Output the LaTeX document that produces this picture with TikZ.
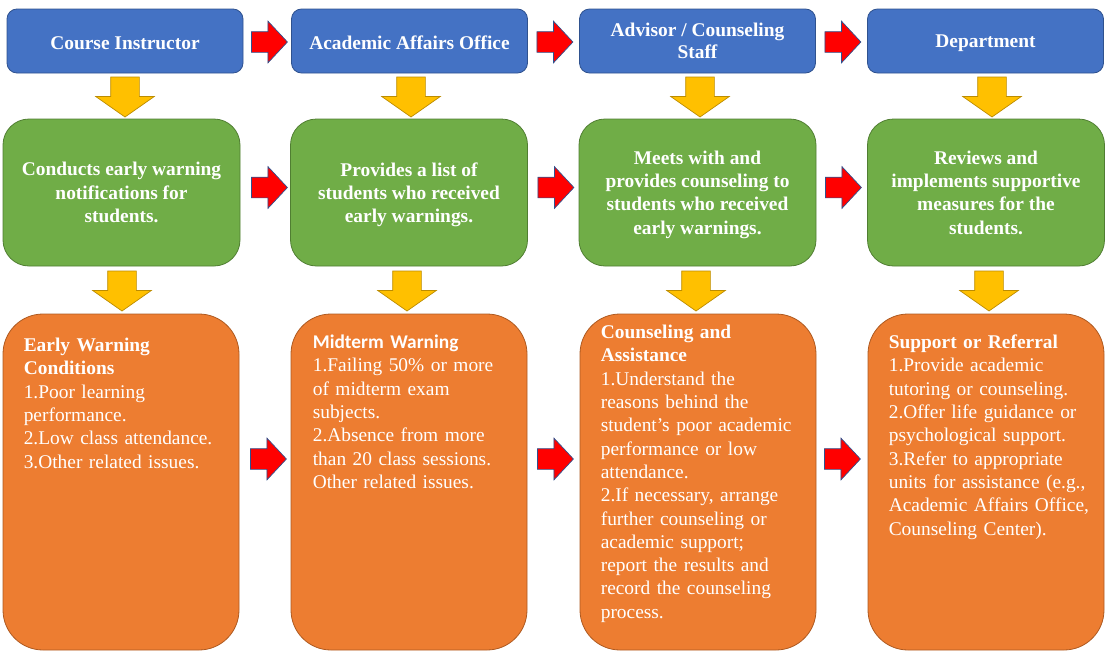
\documentclass[tikz,border=0pt]{standalone}
\usepackage{fontspec}
\setmainfont{Liberation Serif}
\newfontfamily\calibri{Carlito}
\usetikzlibrary{shapes.arrows,calc}

\definecolor{boxblue}{HTML}{4472C4}
\definecolor{blueedge}{HTML}{2F528F}
\definecolor{boxgreen}{HTML}{70AD47}
\definecolor{greenedge}{HTML}{507E32}
\definecolor{boxorange}{HTML}{ED7D31}
\definecolor{orangeedge}{HTML}{AE5A21}
\definecolor{arrowyellow}{HTML}{FFC000}
\definecolor{yellowedge}{HTML}{BC8C00}
\definecolor{arrowred}{HTML}{FF0000}

\tikzset{
  txt/.style={font=\fontsize{19.4}{23.3}\selectfont, text=white},
  bluebox/.style={txt, draw=blueedge, fill=boxblue, rounded corners=10pt, line width=0.8pt,
    minimum width=236pt, minimum height=64pt, align=center, font=\fontsize{19.4}{22.5}\selectfont\bfseries,
    execute at begin node={\rule{0pt}{18pt}}},
  greenbox/.style={txt, draw=greenedge, fill=boxgreen, rounded corners=26pt, line width=0.8pt,
    minimum width=237pt, minimum height=147pt, align=center, font=\fontsize{19.4}{23.3}\selectfont\bfseries,
    text depth=-5pt},
  orangebox/.style={draw=orangeedge, fill=boxorange, rounded corners=40pt, line width=0.8pt,
    minimum width=236pt, minimum height=336pt},
  listtext/.style={txt, anchor=base west, inner sep=0pt, text width=215pt, align=left},
  redarrow/.style={single arrow, draw=blueedge, fill=arrowred, line width=0.7pt,
    minimum height=36pt, inner xsep=0pt, inner ysep=10pt, outer sep=0pt,
    single arrow head extend=10.5pt, single arrow tip angle=94, anchor=tail},
  yellowarrow/.style={single arrow, draw=yellowedge, fill=arrowyellow, line width=0.7pt,
    minimum height=40pt, inner xsep=0pt, inner ysep=14pt, outer sep=0pt,
    single arrow head extend=15pt, single arrow tip angle=110, anchor=tail, rotate=-90}
}

\begin{document}
\begin{tikzpicture}[x=1pt, y=-1pt]
    \useasboundingbox (0,0) rectangle (1109,656);

    % Top row: who acts
    \node[bluebox] (instructor) at (125,41) {Course Instructor};
    \node[bluebox] (academic) at (409.5,41) {Academic Affairs Office};
    \node[bluebox] (advisor) at (697.5,41) {Advisor / Counseling\\Staff};
    \node[bluebox] (department) at (985.5,41) {Department};

    % Middle row: what they do
    \node[greenbox] (conducts) at (121.5,192.5) {Conducts early warning\\notifications for\\students.};
    \node[greenbox] (provides) at (409,192.5) {Provides a list of\\students who received\\early warnings.};
    \node[greenbox] (meets) at (697.5,192.5) {Meets with and\\provides counseling to\\students who received\\early warnings.};
    \node[greenbox] (reviews) at (986,192.5) {Reviews and\\implements supportive\\measures for the\\students.};

    % Bottom row: details
    \node[orangebox] (conditions) at (121,482) {};
    \node[orangebox] (midterm) at (409,482) {};
    \node[orangebox] (counseling) at (698,482) {};
    \node[orangebox] (support) at (986,482) {};

    \node[listtext] (conditionstext) at ($(conditions.north west)+(21,38)$)
      {\textbf{Early Warning}\\\textbf{Conditions}\\1.Poor learning\\performance.\\2.Low class attendance.\\3.Other related issues.};
    \node[listtext] (midtermtext) at ($(midterm.north west)+(22,35)$)
      {{\calibri\bfseries Midterm Warning}\\1.Failing 50\% or more\\of midterm exam\\subjects.\\2.Absence from more\\than 20 class sessions.\\Other related issues.};
    \node[listtext] (counselingtext) at ($(counseling.north west)+(21,25)$)
      {\textbf{Counseling and}\\\textbf{Assistance}\\1.Understand the\\reasons behind the\\student’s poor academic\\performance or low\\attendance.\\2.If necessary, arrange\\further counseling or\\academic support;\\report the results and\\record the counseling\\process.};
    \node[listtext] (supporttext) at ($(support.north west)+(21,35)$)
      {\textbf{Support or Referral}\\1.Provide academic\\tutoring or counseling.\\2.Offer life guidance or\\psychological support.\\3.Refer to appropriate\\units for assistance (e.g.,\\Academic Affairs Office,\\Counseling Center).};

    % Red arrows between columns
    \node[redarrow] (r1) at (instructor.east |- 0,42) [xshift=8pt] {};
    \node[redarrow] (r2) at (academic.east |- 0,42) [xshift=9pt] {};
    \node[redarrow] (r3) at (advisor.east |- 0,42) [xshift=9pt] {};
    \node[redarrow] (r4) at (conducts.east |- 0,187.5) [xshift=11pt] {};
    \node[redarrow] (r5) at (provides.east |- 0,187.5) [xshift=10pt] {};
    \node[redarrow] (r6) at (meets.east |- 0,187.5) [xshift=9pt] {};
    \node[redarrow] (r7) at (conditions.east |- 0,459) [xshift=11pt] {};
    \node[redarrow] (r8) at (midterm.east |- 0,459) [xshift=10pt] {};
    \node[redarrow] (r9) at (counseling.east |- 0,459) [xshift=8pt] {};

    % Yellow arrows down each column
    \node[yellowarrow] (y1) at (125,77) {};
    \node[yellowarrow] (y2) at (411,77) {};
    \node[yellowarrow] (y3) at (700,77) {};
    \node[yellowarrow] (y4) at (992,77) {};
    \node[yellowarrow] (y5) at (122,271) {};
    \node[yellowarrow] (y6) at (407,271) {};
    \node[yellowarrow] (y7) at (696,271) {};
    \node[yellowarrow] (y8) at (989,271) {};
\end{tikzpicture}
\end{document}
